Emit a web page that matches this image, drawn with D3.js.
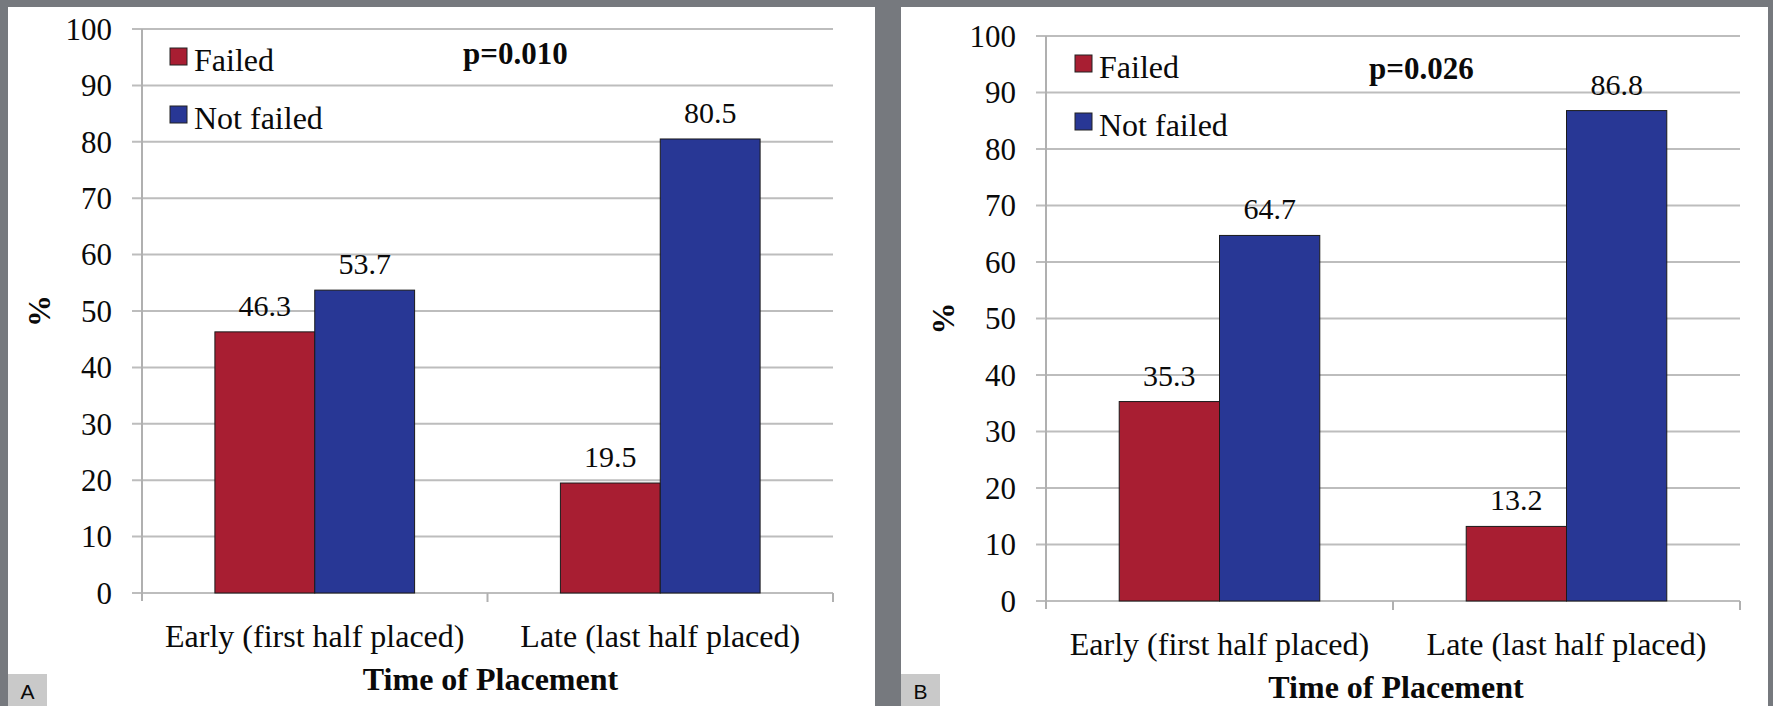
<!DOCTYPE html>
<html>
<head>
<meta charset="utf-8">
<script src="https://cdn.jsdelivr.net/npm/d3@7/dist/d3.min.js"></script>
<style>
  html, body { margin: 0; padding: 0; background: #76797e; }
  svg { display: block; }
  svg text { font-family: "Liberation Serif", serif; }
  svg text.sans { font-family: "Liberation Sans", sans-serif; }
</style>
</head>
<body>
<svg id="chart" width="1773" height="706"></svg>
<script>
// ---- data ----
const categories = ["Early (first half placed)", "Late (last half placed)"];
const seriesNames = ["Failed", "Not failed"];
const panelAFailed = [46.3, 19.5];
const panelANotFailed = [53.7, 80.5];
const panelBFailed = [35.3, 13.2];
const panelBNotFailed = [64.7, 86.8];
const yTicks = [0, 10, 20, 30, 40, 50, 60, 70, 80, 90, 100];
const pValues = ["p=0.010", "p=0.026"];
const panelLabels = ["A", "B"];
const xTitle = "Time of Placement";
const yTitle = "%";

// ---- styles ----
const colors = { "Failed": "#a81e32", "Not failed": "#283795" };
const ink = "#0a0a0a";

const panels = [
  { label: panelLabels[0], p: pValues[0], failed: panelAFailed, notFailed: panelANotFailed,
    bg: [8, 7, 867, 699], x0: 142, x1: 833, yTop: 29, yBot: 593,
    pX: 463, pY: 64, legX: 170, legY: [48, 106], catY: 647, titleY: 690, boxX: 8 },
  { label: panelLabels[1], p: pValues[1], failed: panelBFailed, notFailed: panelBNotFailed,
    bg: [901, 7, 867, 699], x0: 1046, x1: 1740, yTop: 36, yBot: 601,
    pX: 1369, pY: 79, legX: 1075, legY: [55, 113], catY: 655, titleY: 698, boxX: 901 }
];

const svg = d3.select("#chart");

panels.forEach(P => {
  const g = svg.append("g");
  g.append("rect").attr("x", P.bg[0]).attr("y", P.bg[1]).attr("width", P.bg[2]).attr("height", P.bg[3]).attr("fill", "#ffffff");

  const y = d3.scaleLinear().domain([0, 100]).range([P.yBot, P.yTop]);
  const x = d3.scaleBand().domain(categories).range([P.x0, P.x1]).paddingInner(0).paddingOuter(0);
  const bw = x.bandwidth();
  const groupW = bw * 0.578;
  const xs = d3.scaleBand().domain(seriesNames).range([(bw - groupW) / 2, (bw + groupW) / 2]);

  // gridlines (incl. baseline)
  g.selectAll(".grid").data(yTicks).enter().append("line")
    .attr("x1", P.x0 - 10).attr("x2", P.x1)
    .attr("y1", d => y(d)).attr("y2", d => y(d))
    .attr("stroke", "#bdbdbd").attr("stroke-width", 2);

  // y axis line
  g.append("line").attr("x1", P.x0).attr("x2", P.x0).attr("y1", y(100)).attr("y2", y(0) + 8)
    .attr("stroke", "#b0b0b0").attr("stroke-width", 2);
  // x category tick marks
  const bounds = categories.map(c => x(c) + bw);
  g.selectAll(".xt").data(bounds).enter().append("line")
    .attr("x1", d => d).attr("x2", d => d).attr("y1", y(0)).attr("y2", y(0) + 9)
    .attr("stroke", "#b0b0b0").attr("stroke-width", 2);

  // y tick labels
  g.selectAll(".yl").data(yTicks).enter().append("text")
    .attr("x", P.x0 - 30).attr("y", d => y(d)).attr("dy", "0.35em")
    .attr("text-anchor", "end").style("font-size", "31px")
    .attr("fill", ink).text(d => d);

  // bars
  const rows = [];
  categories.forEach((c, i) => {
    rows.push({ cat: c, s: "Failed", v: P.failed[i] });
    rows.push({ cat: c, s: "Not failed", v: P.notFailed[i] });
  });
  g.selectAll(".bar").data(rows).enter().append("rect")
    .attr("x", d => x(d.cat) + xs(d.s)).attr("width", xs.bandwidth())
    .attr("y", d => y(d.v)).attr("height", d => y(0) - y(d.v))
    .attr("fill", d => colors[d.s]).attr("stroke", "#1a1a1a").attr("stroke-width", 1);

  // value labels
  g.selectAll(".vl").data(rows).enter().append("text")
    .attr("x", d => x(d.cat) + xs(d.s) + xs.bandwidth() / 2)
    .attr("y", d => y(d.v) - 16)
    .attr("text-anchor", "middle").style("font-size", "30px")
    .attr("fill", ink).text(d => d.v.toFixed(1));

  // category labels
  g.selectAll(".cl").data(categories).enter().append("text")
    .attr("x", d => x(d) + bw / 2).attr("y", P.catY)
    .attr("text-anchor", "middle").style("font-size", "32px")
    .attr("fill", ink).text(d => d);

  // axis titles
  g.append("text").attr("x", (P.x0 + P.x1) / 2 + 3).attr("y", P.titleY)
    .attr("text-anchor", "middle").style("font-size", "32px")
    .style("font-weight", "bold").attr("fill", ink).text(xTitle);
  const ym = (y(0) + y(100)) / 2;
  const yx = P.x0 - 103;
  g.append("text").attr("transform", `translate(${yx},${ym}) rotate(-90)`)
    .attr("text-anchor", "middle").attr("dy", "0.35em").style("font-size", "32px")
    .style("font-weight", "bold").attr("fill", ink).text(yTitle);

  // legend
  seriesNames.forEach((s, i) => {
    g.append("rect").attr("x", P.legX).attr("y", P.legY[i]).attr("width", 17).attr("height", 17)
      .attr("fill", colors[s]).attr("stroke", "#222").attr("stroke-width", 1);
    g.append("text").attr("x", P.legX + 24).attr("y", P.legY[i] + 23)
      .style("font-size", "32px").attr("fill", ink).text(s);
  });

  // p value
  g.append("text").attr("x", P.pX).attr("y", P.pY)
    .style("font-size", "31px").style("font-weight", "bold")
    .attr("fill", ink).text(P.p);

  // panel label box
  g.append("rect").attr("x", P.boxX).attr("y", 674).attr("width", 39).attr("height", 32).attr("fill", "#c9c9c9");
  g.append("text").attr("class", "sans").attr("x", P.boxX + 19.5).attr("y", 699).attr("text-anchor", "middle")
    .style("font-size", "21px").attr("fill", ink).text(P.label);
});
</script>
</body>
</html>
